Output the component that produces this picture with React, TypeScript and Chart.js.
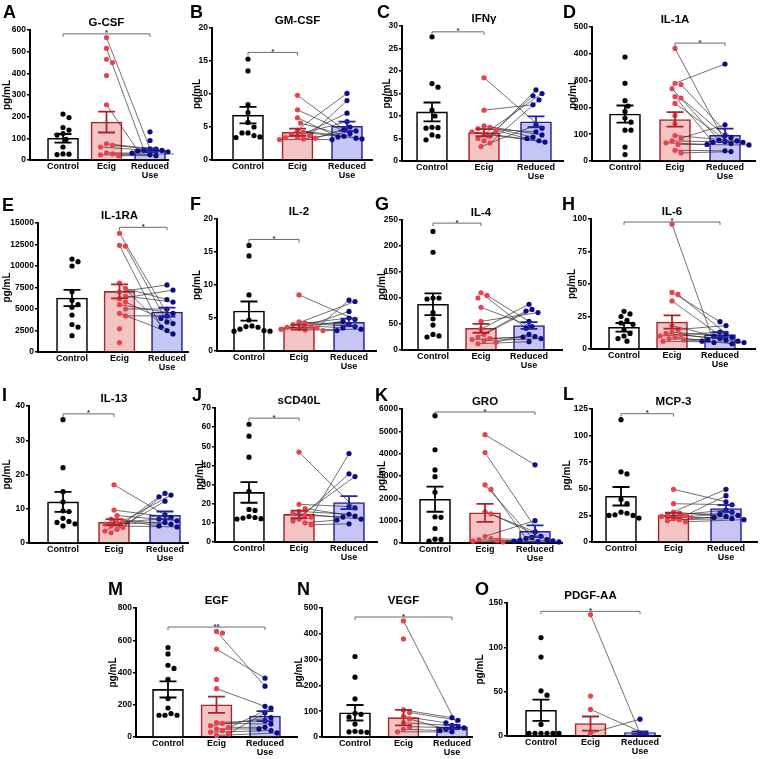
import React, { useEffect, useRef } from "react";
import { Chart, registerables } from "chart.js";

Chart.register(...registerables);

type Val = number | null;

const categories: (string | string[])[] = ["Control", "Ecig", ["Reduced", "Use"]];
const panelTitles = ["G-CSF", "GM-CSF", "IFNγ", "IL-1A", "IL-1RA", "IL-2", "IL-4", "IL-6", "IL-13", "sCD40L", "GRO", "MCP-3", "EGF", "VEGF", "PDGF-AA"];
const panelLetters = ["A", "B", "C", "D", "E", "F", "G", "H", "I", "J", "K", "L", "M", "N", "O"];
const yMaxes = [600, 20, 30, 500, 15000, 20, 250, 100, 40, 70, 6000, 125, 800, 500, 150];
const ySteps = [100, 5, 5, 100, 2500, 5, 50, 25, 10, 10, 1000, 25, 200, 100, 50];

// A G-CSF
const gcsfControl: Val[] = [212, 196, 150, 138, 122, 115, 95, 60, 28, 27, 25];
const gcsfEcig: Val[] = [565, 515, 465, 450, 390, 255, 75, 68, 60, 33, 28, 24, 20, null, null];
const gcsfReduced: Val[] = [52, 46, null, null, null, 42, 50, 44, 38, 32, 28, 24, 20, 130, 90];
const gcsfMean = [100, 175, 45];
const gcsfSem = [20, 48, 9];
const gcsfSig: [number, number, number, string] = [0, 2, 582, "*"];
// B GM-CSF
const gmcsfControl: Val[] = [15.3, 13.5, 8.4, 7.2, 5.7, 5.0, 4.1, 4.1, 3.7, 3.5, 3.4];
const gmcsfEcig: Val[] = [9.8, 7.6, 6.4, 5.6, 4.5, 4.2, 3.9, 3.7, 3.5, 3.4, 3.3, 3.2, 3.1];
const gmcsfReduced: Val[] = [4.6, 4.0, 3.5, 3.3, 3.6, 3.2, 10.1, 9.0, 7.1, 5.8, 5.0, 4.4, 3.1];
const gmcsfMean = [6.8, 4.2, 5.1];
const gmcsfSem = [1.25, 0.55, 0.7];
const gmcsfSig: [number, number, number, string] = [0, 1, 16.3, "*"];
// C IFNγ
const ifngControl: Val[] = [27.6, 17.2, 16.4, 11.3, 10.0, 7.5, 7.4, 7.3, 5.8, 5.5, 4.7];
const ifngEcig: Val[] = [18.5, 11.3, 7.8, 7.5, 7.2, 6.8, 6.5, 6.0, 5.5, 5.0, 4.5, 4.0, 3.2];
const ifngReduced: Val[] = [7.3, 12.5, 5.8, 5.3, 6.5, 5.0, 4.5, 4.2, 15.8, 15.0, 14.5, 13.6, 8.0];
const ifngMean = [10.9, 6.3, 8.7];
const ifngSem = [2.1, 0.8, 1.2];
const ifngSig: [number, number, number, string] = [0, 1, 28.7, "*"];
// D IL-1A
const il1aControl: Val[] = [388, 290, 225, 205, 185, 160, 145, 115, 115, 52, 24];
const il1aEcig: Val[] = [420, 290, 285, 270, 240, 235, 215, 170, 140, 95, 85, 75, 68, 62, 40, 30];
const il1aReduced: Val[] = [72, 362, 88, 78, 70, 95, 65, null, null, 75, 135, 70, 62, 60, 38, 35];
const il1aMean = [175, 155, 96];
const il1aSem = [32, 27, 25];
const il1aSig: [number, number, number, string] = [1, 2, 440, "*"];
// E IL-1RA
const il1raControl: Val[] = [10800, 10500, 10000, 7000, 6000, 5500, 5200, 4300, 3200, 2900, 1900];
const il1raEcig: Val[] = [13800, 12400, 12300, 8000, 7400, 7000, 6500, 6200, 5800, 5500, 5000, 4500, 4200, 2700, 1100];
const il1raReduced: Val[] = [3300, 2900, 3500, 2500, 6100, 7800, 5800, 7200, 3900, 4500, 5000, 2100, 4200, null, null];
const il1raMean = [6280, 7050, 4650];
const il1raSem = [950, 820, 520];
const il1raSig: [number, number, number, string] = [1, 2, 14500, "*"];
// F IL-2
const il2Control: Val[] = [16.0, 14.4, 8.5, 4.7, 3.8, 3.7, 3.6, 3.3, 3.1, 3.0, 3.0];
const il2Ecig: Val[] = [8.5, 4.4, 4.2, 4.0, 3.8, 3.6, 3.5, 3.4, 3.3, 3.2, 3.1];
const il2Reduced: Val[] = [4.8, 4.0, 3.7, 5.0, 3.5, 7.5, 7.7, 6.0, 4.5, 3.3, 3.1];
const il2Mean = [6.05, 3.6, 4.35];
const il2Sem = [1.45, 0.35, 0.55];
const il2Sig: [number, number, number, string] = [0, 1, 16.9, "*"];
// G IL-4
const il4Control: Val[] = [228, 188, 100, 100, 98, 72, 60, 48, 30, 27, 25];
const il4Ecig: Val[] = [110, 105, 100, 82, 55, 40, 30, 25, 22, 20, 18, 15, 12];
const il4Reduced: Val[] = [42, 55, null, 45, 72, 88, 78, 75, 26, 25, 22, 30, 16];
const il4Mean = [88, 41.7, 47];
const il4Sem = [21, 8.5, 6.5];
const il4Sig: [number, number, number, string] = [0, 1, 244, "*"];
// H IL-6
const il6Control: Val[] = [29, 27, 25, 22, 20, 19, 15, 12, 10, 8, 6];
const il6Ecig: Val[] = [96, 43.5, 42, 37, 18, 15, 13, 12, 11, 10, 9, 8, 7, 6];
const il6Reduced: Val[] = [5, 21, 12, 7, 10, 18, 9, 8, 6, 13, 4, 7, 6, 5];
const il6Mean = [16.7, 20.8, 11];
const il6Sem = [3.3, 5.1, 1.9];
const il6Sig: [number, number, number, string] = [0, 2, 97.7, "*"];
// I IL-13
const il13Control: Val[] = [36, 22, 15, 12, 9.4, 9.2, 7.2, 6.3, 6.0, 5.6, 5.0];
const il13Ecig: Val[] = [17, 9.6, 8.0, 7.0, 6.5, 6.0, 5.5, 5.0, 4.5, 4.0, 3.5, 3.0];
const il13Reduced: Val[] = [8.2, 7.5, 6.5, 5.5, 5.0, 7.0, 6.0, 4.7, 14.5, 12.2, 14.0, 13.5];
const il13Mean = [12, 6.1, 8.1];
const il13Sem = [2.9, 0.85, 1.1];
const il13Sig: [number, number, number, string] = [0, 1, 37.7, "*"];
// J sCD40L
const cd40Control: Val[] = [61.5, 55.3, 44.3, 26.5, 17.0, 16.5, 13.3, 12.8, 12.5, 12.2, 12.0];
const cd40Ecig: Val[] = [47, 19.7, 17.5, 16, 15, 14, 13, 12, 11, 10, 9];
const cd40Reduced: Val[] = [17.8, 18.5, 13.5, 14.5, 12, 13, 46.2, 35.6, 34.2, 11.5, 9.5];
const cd40Mean = [25.9, 14.4, 20.6];
const cd40Sem = [5.4, 2.0, 3.4];
const cd40Sig: [number, number, number, string] = [0, 1, 64.7, "*"];
// K GRO
const groControl: Val[] = [5700, 4170, 3270, 2970, 2270, 1170, 1150, 650, 170, 160, 80];
const groEcig: Val[] = [4850, 4050, 2600, 2400, 1400, 1300, 300, 200, 150, 100, 80, 50];
const groReduced: Val[] = [3500, 300, 250, 200, 500, 150, 1000, 100, 80, 120, 60, 50];
const groMean = [1960, 1350, 525];
const groSem = [560, 400, 260];
const groSig: [number, number, number, string] = [0, 2, 5865, "*"];
// L MCP-3
const mcp3Control: Val[] = [115, 66, 64, 40, 36, 28, 27, 25.5, 25, 25, 22.5];
const mcp3Ecig: Val[] = [49.5, 36, 28, 27, 26, 25, 24, 23, 22, 21, 20, 19];
const mcp3Reduced: Val[] = [37.8, 35, 24, 26, 49.5, 43.5, 30, 23, 28, 22, 25, 21];
const mcp3Mean = [43, 25.2, 31.5];
const mcp3Sem = [8.7, 2.3, 3.1];
const mcp3Sig: [number, number, number, string] = [0, 1, 120.6, "*"];
// M EGF
const egfControl: Val[] = [555, 515, 445, 425, 357, 238, 180, 145, 135, 135, 135];
const egfEcig: Val[] = [655, 645, 545, 357, 300, 90, 85, 70, 60, 50, 40, 30, 20, 10];
const egfReduced: Val[] = [315, null, 365, null, 190, 100, 80, 120, 60, 50, 180, 40, 150, 25];
const egfMean = [295, 200, 130];
const egfSem = [50, 50, 31];
const egfSig: [number, number, number, string] = [0, 2, 682, "**"];
// N VEGF
const vegfControl: Val[] = [312, 232, 148, 92, 88, 78, 50, 22, 20, 20, 18];
const vegfEcig: Val[] = [450, 380, 105, 95, 80, 70, 55, 40, 30, 20];
const vegfReduced: Val[] = [40, null, 75, 65, 55, 30, 45, 35, 25, 20];
const vegfMean = [94, 75, 39];
const vegfSem = [30, 30, 8];
const vegfSig: [number, number, number, string] = [0, 2, 465, "*"];
// O PDGF-AA
const pdgfControl: Val[] = [111, 89, 51, 46, 13, 3, 3, 3, 3, 3, 3];
const pdgfEcig: Val[] = [137, 45, 30, 3];
const pdgfReduced: Val[] = [3, null, 2, 19];
const pdgfMean = [29, 14, 3.8];
const pdgfSem = [12, 8, 1.5];
const pdgfSig: [number, number, number, string] = [0, 2, 140.6, "*"];

const controls = [gcsfControl, gmcsfControl, ifngControl, il1aControl, il1raControl, il2Control, il4Control, il6Control, il13Control, cd40Control, groControl, mcp3Control, egfControl, vegfControl, pdgfControl];
const ecigs = [gcsfEcig, gmcsfEcig, ifngEcig, il1aEcig, il1raEcig, il2Ecig, il4Ecig, il6Ecig, il13Ecig, cd40Ecig, groEcig, mcp3Ecig, egfEcig, vegfEcig, pdgfEcig];
const reduceds = [gcsfReduced, gmcsfReduced, ifngReduced, il1aReduced, il1raReduced, il2Reduced, il4Reduced, il6Reduced, il13Reduced, cd40Reduced, groReduced, mcp3Reduced, egfReduced, vegfReduced, pdgfReduced];
const means = [gcsfMean, gmcsfMean, ifngMean, il1aMean, il1raMean, il2Mean, il4Mean, il6Mean, il13Mean, cd40Mean, groMean, mcp3Mean, egfMean, vegfMean, pdgfMean];
const sems = [gcsfSem, gmcsfSem, ifngSem, il1aSem, il1raSem, il2Sem, il4Sem, il6Sem, il13Sem, cd40Sem, groSem, mcp3Sem, egfSem, vegfSem, pdgfSem];
const sigs = [gcsfSig, gmcsfSig, ifngSig, il1aSig, il1raSig, il2Sig, il4Sig, il6Sig, il13Sig, cd40Sig, groSig, mcp3Sig, egfSig, vegfSig, pdgfSig];

// layout: canvasLeft, canvasTop, canvasHeight, axisLeft, plotTop, plotBottom, plotRight, firstCenter, lastCenter
const boxes = [
  [0, 0, 186, 30, 30, 160, 168, 63, 150],
  [190, 0, 186, 212, 28, 160, 372, 248, 347],
  [380, 0, 186, 402, 26, 161, 563, 432, 536],
  [566, 0, 186, 592, 27, 161, 755, 625, 725],
  [0, 184, 190, 38, 223, 352, 188, 72, 167],
  [190, 184, 190, 217, 219, 351, 376, 249, 349],
  [375, 184, 190, 402, 220, 350, 562, 433, 529],
  [565, 184, 190, 591, 219, 349, 755, 624, 720],
  [0, 370, 195, 29, 406, 543, 188, 63, 165],
  [193, 370, 195, 215, 408, 542, 377, 249, 349],
  [375, 370, 195, 402, 409, 543, 562, 435, 535],
  [560, 370, 195, 592, 409, 542, 757, 621, 726],
  [106, 574, 185, 136, 608, 737, 297, 168, 265],
  [292, 574, 185, 322, 608, 737, 472, 355, 452],
  [473, 574, 185, 507, 603, 736, 660, 541, 640],
];
const letterPos = [
  [3, 5], [190, 5], [377, 5], [563, 5],
  [2, 198], [190, 197], [375, 197], [562, 197],
  [2, 388], [192, 388], [375, 388], [563, 387],
  [108, 582], [297, 582], [475, 582],
];

const FONT = "'Liberation Sans', Arial, Helvetica, sans-serif";
const barFill = ["#ffffff", "#f2c4c4", "#c6c6f4"];
const barEdge = ["#000000", "#b0212a", "#22229e"];
const pointColor = ["#000000", "#e8434d", "#0b0b8a"];

function swarm(vals: Val[], cat: number, pxPerUnit: number, pxPerCat: number): number[] {
  const out = vals.map(() => cat);
  const placed: { x: number; y: number }[] = [];
  const idx = vals.map((_, i) => i).filter((i) => vals[i] != null);
  idx.sort((a, b) => (vals[b] as number) - (vals[a] as number));
  const D = 6;
  for (const i of idx) {
    const yp = (vals[i] as number) * pxPerUnit;
    let chosen = 0;
    for (let k = 0; k < 60; k++) {
      const off = (k % 2 === 1 ? 1 : -1) * Math.ceil(k / 2) * (D / 2);
      if (placed.every((p) => Math.hypot(p.x - off, p.y - yp) >= D)) {
        chosen = off;
        break;
      }
    }
    placed.push({ x: chosen, y: yp });
    out[i] = cat + chosen / pxPerCat;
  }
  return out;
}

function Panel({ i }: { i: number }) {
  const ref = useRef<HTMLCanvasElement>(null);
  const [cl, ct, ch, ax, pt, pb, pr, c0, c2] = boxes[i];
  const cw = pr - cl + 8;
  useEffect(() => {
    const s = (c2 - c0) / 2;
    const xMin = -(c0 - ax) / s;
    const xMax = 2 + (pr - c2) / s;
    const yMax = yMaxes[i];
    const ppu = (pb - pt) / yMax;
    const ctrl = controls[i], ecig = ecigs[i], red = reduceds[i];
    const cx = swarm(ctrl, 0, ppu, s);
    const ex = swarm(ecig, 1, ppu, s);
    const rx = swarm(red, 2, ppu, s);
    const pts = (vals: Val[], xs: number[]) =>
      vals.map((v, k) => (v == null ? null : { x: xs[k], y: v })).filter((d) => d != null);
    const pairs: any[] = [];
    ecig.forEach((e, k) => {
      const r = red[k];
      if (e != null && r != null) {
        pairs.push({ x: ex[k], y: e }, { x: rx[k], y: r }, { x: 1.5, y: null });
      }
    });
    const mean = means[i], sem = sems[i], sig = sigs[i];
    const overlay = {
      id: "overlay" + i,
      afterDatasetsDraw(chart: any) {
        const { ctx, scales, chartArea } = chart;
        const xs = scales.x, ys = scales.y;
        ctx.save();
        for (let g = 0; g < 3; g++) {
          const px = xs.getPixelForValue(g);
          const hi = ys.getPixelForValue(mean[g] + sem[g]);
          const lo = ys.getPixelForValue(Math.max(0, mean[g] - sem[g]));
          const cap = 8.5;
          ctx.strokeStyle = barEdge[g];
          ctx.lineWidth = 1.8;
          ctx.beginPath();
          ctx.moveTo(px, hi);
          ctx.lineTo(px, lo);
          ctx.moveTo(px - cap, hi);
          ctx.lineTo(px + cap, hi);
          ctx.moveTo(px - cap, lo);
          ctx.lineTo(px + cap, lo);
          ctx.stroke();
        }
        const [from, to, at, lab] = sig;
        const x1 = xs.getPixelForValue(from);
        const x2 = xs.getPixelForValue(to);
        const yy = ys.getPixelForValue(at);
        ctx.strokeStyle = "#6a6a6a";
        ctx.lineWidth = 1;
        ctx.beginPath();
        ctx.moveTo(x1, yy + 3);
        ctx.lineTo(x1, yy);
        ctx.lineTo(x2, yy);
        ctx.lineTo(x2, yy + 3);
        ctx.stroke();
        ctx.fillStyle = "#333";
        ctx.font = `bold 8px ${FONT}`;
        ctx.textAlign = "center";
        ctx.textBaseline = "alphabetic";
        ctx.fillText(lab, (x1 + x2) / 2, yy + 1.5);
        ctx.fillStyle = "#000";
        ctx.font = `bold 11.5px ${FONT}`;
        ctx.textBaseline = "middle";
        ctx.fillText(panelTitles[i], xs.getPixelForValue(1), chartArea.top - 7);
        ctx.restore();
      },
    };
    const chart = new Chart(ref.current as HTMLCanvasElement, {
      type: "bar",
      data: {
        datasets: [
          {
            type: "bar",
            data: mean.map((m, g) => ({ x: g, y: m })),
            backgroundColor: barFill,
            borderColor: barEdge,
            borderWidth: 1.6,
            barThickness: 31,
            order: 5,
          } as any,
          {
            type: "line",
            data: pairs,
            borderColor: "rgba(45,45,45,0.85)",
            borderWidth: 0.8,
            pointRadius: 0,
            spanGaps: false,
            fill: false,
            clip: false,
            order: 4,
          } as any,
          {
            type: "scatter",
            data: pts(ctrl, cx),
            backgroundColor: pointColor[0],
            borderWidth: 0,
            pointRadius: 2.6,
            clip: false,
            order: 1,
          } as any,
          {
            type: "scatter",
            data: pts(ecig, ex),
            backgroundColor: pointColor[1],
            borderWidth: 0,
            pointRadius: 2.6,
            clip: false,
            order: 2,
          } as any,
          {
            type: "scatter",
            data: pts(red, rx),
            backgroundColor: pointColor[2],
            borderWidth: 0,
            pointRadius: 2.6,
            clip: false,
            order: 3,
          } as any,
        ],
      },
      options: {
        responsive: false,
        animation: false,
        devicePixelRatio: 1,
        events: [],
        layout: { padding: { top: pt - ct, left: 0, right: cl + cw - pr, bottom: 0 } },
        plugins: { legend: { display: false }, tooltip: { enabled: false }, title: { display: false } },
        scales: {
          x: {
            type: "linear",
            min: xMin,
            max: xMax,
            offset: false,
            bounds: "data",
            grid: { display: false, drawTicks: false, offset: false },
            border: { display: true, color: "#000", width: 2 },
            ticks: {
              padding: 2,
              color: "#000",
              autoSkip: false,
              maxRotation: 0,
              minRotation: 0,
              font: { family: FONT, size: 9, weight: "bold", lineHeight: 1.0 },
              callback: (v: any) => (categories[v] as any) ?? "",
            },
            afterBuildTicks: (sc: any) => {
              sc.ticks = [0, 1, 2].map((v) => ({ value: v }));
            },
            afterFit: (sc: any) => {
              sc.height = ct + ch - pb;
            },
          },
          y: {
            type: "linear",
            min: 0,
            max: yMax,
            grid: { display: true, drawOnChartArea: false, drawTicks: true, tickLength: 3, color: "#000", lineWidth: 1.5 },
            border: { display: true, color: "#000", width: 2 },
            ticks: {
              stepSize: ySteps[i],
              padding: 1,
              color: "#000",
              font: { family: FONT, size: 8.5, weight: "bold" },
              callback: (v: any) => String(v),
            },
            title: {
              display: true,
              text: "pg/mL",
              color: "#000",
              font: { family: FONT, size: 10, weight: "bold" },
              padding: { top: 1, bottom: 0 },
            },
            afterFit: (sc: any) => {
              sc.width = ax - cl;
            },
          },
        },
      } as any,
      plugins: [overlay as any],
    });
    return () => chart.destroy();
  }, []);
  return (
    <canvas
      ref={ref}
      width={cw}
      height={ch}
      style={{ position: "absolute", left: cl, top: ct, width: cw, height: ch }}
    />
  );
}

export default function App() {
  return (
    <div style={{ position: "absolute", left: 0, top: 0, width: 762, height: 759, background: "#fff", overflow: "hidden" }}>
      {panelTitles.map((_, i) => (
        <Panel key={"p" + i} i={i} />
      ))}
      {panelLetters.map((l, i) => (
        <div
          key={"l" + i}
          style={{
            position: "absolute",
            left: letterPos[i][0],
            top: letterPos[i][1] - 2.4,
            font: `bold 18px ${FONT}`,
            lineHeight: "18px",
            color: "#000",
          }}
        >
          {l}
        </div>
      ))}
    </div>
  );
}
